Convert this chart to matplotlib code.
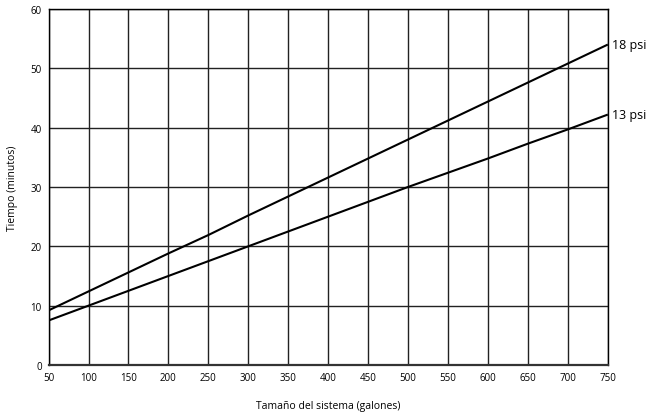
import matplotlib
matplotlib.use("Agg")
import matplotlib.pyplot as plt
import numpy as np

# data
galones = [50, 100, 150, 200, 250, 300, 350, 400, 450, 500, 550, 600, 650, 700, 750]
psi_18 = [9.2, 12.4, 15.6, 18.8, 21.9, 25.2, 28.4, 31.6, 34.8, 38.0, 41.2, 44.4, 47.6, 50.8, 54.0]
psi_13 = [7.5, 10.0, 12.5, 15.0, 17.5, 20.0, 22.5, 25.0, 27.5, 30.0, 32.4, 34.8, 37.3, 39.7, 42.2]
series_labels = ["18 psi", "13 psi"]

plt.rcParams.update({"font.family": ["Open Sans", "DejaVu Sans"], "font.size": 7})

fig = plt.figure(figsize=(6.48, 4.14), dpi=100)
ax = fig.add_axes([0.075, 0.116, 0.863, 0.86])

ax.plot(galones, psi_18, color="black", lw=1.5, solid_capstyle="butt")
ax.plot(galones, psi_13, color="black", lw=1.5, solid_capstyle="butt")

ax.set_xlim(50, 750)
ax.set_ylim(0, 60)
ax.set_xticks(np.arange(50, 751, 50))
ax.set_yticks(np.arange(0, 61, 10))
ax.tick_params(length=0, pad=5, labelsize=7)
ax.grid(True, color="#222222", lw=1)
ax.set_axisbelow(True)
for s in ax.spines.values():
    s.set_color("black")
    s.set_linewidth(1)
ax.spines["bottom"].set_linewidth(1.6)
ax.spines["bottom"].set_color("#333333")

ax.set_xlabel("Tamaño del sistema (galones)", fontsize=7.5, labelpad=12)
ax.set_ylabel("Tiempo (minutos)", fontsize=7.5, labelpad=9)

# series names at the right end of each line
for lab, ys in zip(series_labels, [psi_18, psi_13]):
    ax.annotate(lab, xy=(galones[-1], ys[-1]), xytext=(3, 0), textcoords="offset points",
                va="center", ha="left", fontsize=9, annotation_clip=False)

plt.savefig("out.png", dpi=100)
